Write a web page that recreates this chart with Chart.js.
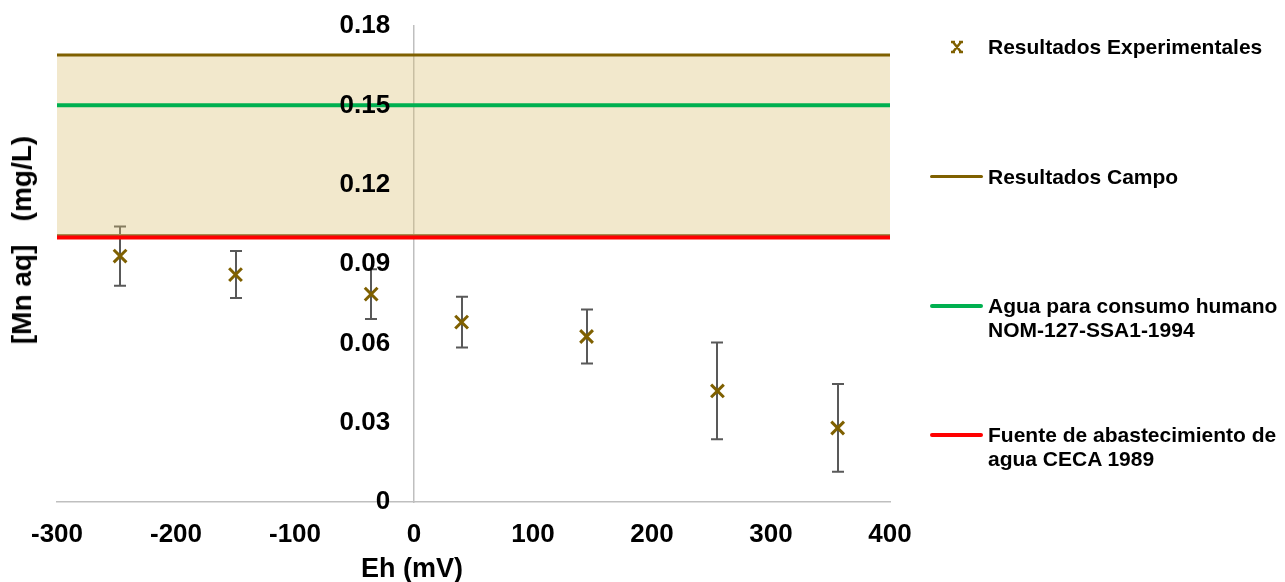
<!DOCTYPE html>
<html>
<head>
<meta charset="utf-8">
<script src="https://cdn.jsdelivr.net/npm/chart.js@4.4.0/dist/chart.umd.min.js"></script>
<style>
  html, body { margin: 0; padding: 0; background: #fff; }
  #wrap { position: relative; width: 1285px; height: 582px; font-family: "Liberation Sans", Arial, sans-serif; font-weight: bold; color: #000; }
  #chart { position: absolute; left: 0; top: 0; }
  .ytitle { position: absolute; left: 22px; top: 240px; transform: translate(-50%, -50%) rotate(-90deg); font-size: 28px; white-space: pre; }
  .xtitle { position: absolute; left: 412px; top: 568px; transform: translate(-50%, -50%); font-size: 27px; white-space: pre; }
  .leg { position: absolute; left: 988px; font-size: 21px; line-height: 24px; white-space: nowrap; }
  .sw { position: absolute; left: 930px; width: 53px; border-radius: 2px; }
  #mk { position: absolute; left: 950px; top: 40px; }
</style>
</head>
<body>
<div id="wrap">
  <canvas id="chart" width="1285" height="582"></canvas>
  <div class="ytitle">[Mn aq]   (mg/L)</div>
  <div class="xtitle">Eh (mV)</div>

  <canvas id="mk" width="14" height="14"></canvas>
  <div class="leg" style="top:35px;">Resultados Experimentales</div>

  <div class="sw" style="top:175px;height:3px;background:#7F6000;"></div>
  <div class="leg" style="top:165px;">Resultados Campo</div>

  <div class="sw" style="top:304px;height:4px;background:#00B050;"></div>
  <div class="leg" style="top:294px;">Agua para consumo humano<br>NOM-127-SSA1-1994</div>

  <div class="sw" style="top:433px;height:4px;background:#FF0000;"></div>
  <div class="leg" style="top:423px;">Fuente de abastecimiento de<br>agua CECA 1989</div>
</div>

<script>
// Redox potential (mV) of each experiment and dissolved manganese (mg/L)
const ehValues = [-247, -150, -36, 40, 145, 255, 356];
const mnValues = [0.093, 0.086, 0.0786, 0.068, 0.0626, 0.042, 0.028];
const mnErrors = [0.0112, 0.0089, 0.0094, 0.0096, 0.0102, 0.0183, 0.0166];

// Field results band and regulatory limits (mg/L)
const campoMin = 0.101;
const campoMax = 0.169;
const nomLimit = 0.15;
const cecaLimit = 0.10;

// Axis extents and ticks
const ehRange = [-300, 400];
const ehStep = 100;
const mnRange = [0, 0.18];
const mnStep = 0.03;

const markerColor = '#7F6000';
const errColor = '#595959';
const tickFont = { family: 'Liberation Sans', size: 26, weight: 'bold' };

const hline = (v) => [{ x: ehRange[0], y: v }, { x: ehRange[1], y: v }];

// Vertical error bars with caps, drawn under the markers and limit lines
const errorBars = {
  id: 'errorBars',
  beforeDatasetsDraw(chart) {
    const { ctx, scales: { x, y } } = chart;
    ctx.save();
    ctx.strokeStyle = errColor;
    ctx.lineWidth = 2;
    ehValues.forEach((e, i) => {
      const px = Math.round(x.getPixelForValue(e));
      const top = y.getPixelForValue(mnValues[i] + mnErrors[i]);
      const bot = y.getPixelForValue(mnValues[i] - mnErrors[i]);
      ctx.beginPath();
      ctx.moveTo(px, top); ctx.lineTo(px, bot);
      ctx.moveTo(px - 6, top); ctx.lineTo(px + 6, top);
      ctx.moveTo(px - 6, bot); ctx.lineTo(px + 6, bot);
      ctx.stroke();
    });
    ctx.restore();
  }
};

new Chart(document.getElementById('chart'), {
  type: 'scatter',
  data: {
    datasets: [
      {
        label: 'Resultados Experimentales',
        data: ehValues.map((e, i) => ({ x: e, y: mnValues[i] })),
        pointStyle: 'crossRot',
        pointRadius: 9,
        pointBorderWidth: 3,
        borderColor: markerColor,
        backgroundColor: markerColor,
        order: 0
      },
      {
        type: 'line',
        label: 'Fuente de abastecimiento de agua CECA 1989',
        data: hline(cecaLimit),
        borderColor: '#FF0000',
        borderWidth: 4,
        pointRadius: 0,
        fill: false,
        order: 1
      },
      {
        type: 'line',
        label: 'Agua para consumo humano NOM-127-SSA1-1994',
        data: hline(nomLimit),
        borderColor: '#00B050',
        borderWidth: 4,
        pointRadius: 0,
        fill: false,
        order: 2
      },
      {
        type: 'line',
        label: 'Resultados Campo',
        data: hline(campoMax),
        borderColor: markerColor,
        borderWidth: 3,
        pointRadius: 0,
        fill: { target: 4 },
        backgroundColor: 'rgba(218, 189, 109, 0.35)',
        order: 3
      },
      {
        type: 'line',
        label: 'Resultados Campo (min)',
        data: hline(campoMin),
        borderColor: '#8A7440',
        borderWidth: 2,
        pointRadius: 0,
        fill: false,
        order: 4
      }
    ]
  },
  options: {
    responsive: false,
    animation: false,
    layout: { padding: { left: 57, top: 26, right: 395, bottom: 0 } },
    plugins: {
      legend: { display: false },
      tooltip: { enabled: false }
    },
    scales: {
      x: {
        type: 'linear',
        position: 'bottom',
        min: ehRange[0],
        max: ehRange[1],
        grid: { display: false, drawTicks: false },
        border: { display: true, color: '#BFBFBF', width: 1.5 },
        ticks: { stepSize: ehStep, padding: 17, color: '#000', font: tickFont },
        afterFit(scale) { scale.height = 80; }
      },
      // value axis line, crossing at Eh = 0
      y: {
        type: 'linear',
        position: { x: 0 },
        min: mnRange[0],
        max: mnRange[1],
        grid: { display: false, drawTicks: false },
        border: { display: true, color: '#BFBFBF', width: 1.5 },
        ticks: { stepSize: mnStep, display: false }
      },
      // value labels, set just left of the crossing line and drawn above the plot
      yLabels: {
        type: 'linear',
        position: { x: -20 },
        min: mnRange[0],
        max: mnRange[1],
        grid: { display: false, drawTicks: false },
        border: { display: false },
        ticks: {
          z: 1,
          stepSize: mnStep,
          color: '#000',
          font: tickFont,
          callback: (v) => String(+v.toFixed(2))
        }
      }
    }
  },
  plugins: [errorBars]
});

// Legend marker for the experimental series
(function () {
  const c = document.getElementById('mk').getContext('2d');
  c.strokeStyle = markerColor;
  c.lineWidth = 2.5;
  c.beginPath();
  c.moveTo(3, 2); c.lineTo(11, 12);
  c.moveTo(11, 2); c.lineTo(3, 12);
  c.moveTo(1, 2); c.lineTo(5, 2);
  c.moveTo(9, 2); c.lineTo(13, 2);
  c.moveTo(1, 12); c.lineTo(5, 12);
  c.moveTo(9, 12); c.lineTo(13, 12);
  c.stroke();
})();
</script>
</body>
</html>
